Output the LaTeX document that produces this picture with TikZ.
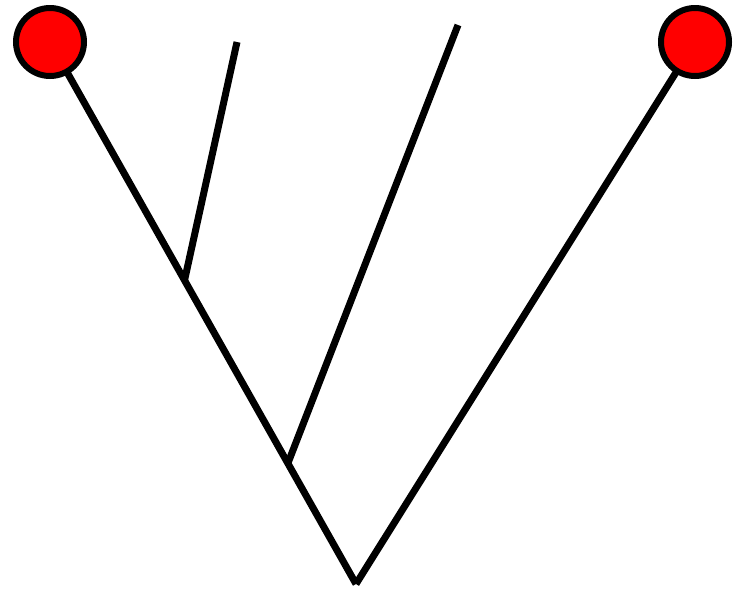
\documentclass[tikz,border=0pt]{standalone}
\begin{document}
\begin{tikzpicture}[x=1pt,y=-1pt,
  branch/.style={line width=7pt,line cap=butt,black},
  leaf/.style={circle,draw=black,fill=red,line width=6pt,minimum size=68pt,inner sep=0pt}]
\useasboundingbox (0,0) rectangle (733,590);
\coordinate (root) at (356,584);
\coordinate (lc) at (50,42);
\coordinate (rc) at (695,42);
\coordinate (j1) at (184.6,280);
\coordinate (j2) at (288,463);
\coordinate (t1) at (237,42);
\coordinate (t2) at (458,25);
\draw[branch] (root) -- (lc);
\draw[branch] (root) -- (rc);
\draw[branch] (j1) -- (t1);
\draw[branch] (j2) -- (t2);
\node[leaf] (L) at (lc) {};
\node[leaf] (R) at (rc) {};
\end{tikzpicture}
\end{document}
